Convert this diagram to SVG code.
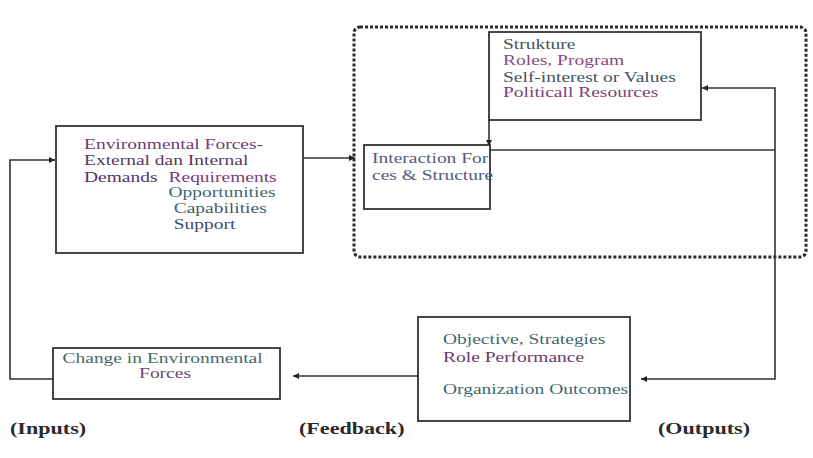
<svg xmlns="http://www.w3.org/2000/svg" width="813" height="458" viewBox="0 0 813 458">
  <style>
    .box { fill: #ffffff; stroke: #333333; stroke-width: 1.8; }
    .line { fill: none; stroke: #333333; stroke-width: 1.6; }
    .frame { fill: none; stroke: #2a2a2a; stroke-width: 3; stroke-dasharray: 3 2; }
    .t { font-family: "Liberation Serif", "Times New Roman", serif; font-size: 15px; }
    .lbl { font-family: "Liberation Serif", "Times New Roman", serif; font-size: 17px; font-weight: bold; fill: #2a2a2a; }
    .dk { fill: #3e5560; }
    .pu { fill: #7a3f7a; }
    .te { fill: #3e6a70; }
  </style>
  <defs>
    <marker id="arrow" viewBox="0 0 10 10" refX="10" refY="5" markerWidth="6" markerHeight="6" markerUnits="userSpaceOnUse" orient="auto">
      <path d="M0,0 L10,5 L0,10 z" fill="#222222"/>
    </marker>
  </defs>

  <!-- dotted frame around the interaction subsystem -->
  <rect class="frame" x="354" y="27" width="452" height="230" rx="6"/>

  <g id="connectors">
    <!-- environment to interaction -->
    <line class="line" x1="303" y1="158" x2="355" y2="158" marker-end="url(#arrow)"/>
    <!-- outer right loop -->
    <polyline class="line" points="775,150 775,88 702,88" marker-end="url(#arrow)"/>
    <line class="line" x1="490" y1="150" x2="775" y2="150"/>
    <polyline class="line" points="775,150 775,379 641,379" marker-end="url(#arrow)"/>
    <!-- structure to interaction -->
    <line class="line" x1="489" y1="120" x2="489" y2="146" marker-end="url(#arrow)"/>
    <!-- outputs to feedback -->
    <line class="line" x1="418" y1="376" x2="293" y2="376" marker-end="url(#arrow)"/>
    <!-- feedback back to inputs -->
    <polyline class="line" points="53,379 10,379 10,160 55,160" marker-end="url(#arrow)"/>
  </g>

  <g id="environmental-forces">
    <rect class="box" x="56" y="126" width="247" height="127"/>
    <text class="t" transform="translate(84 149) scale(1.3 1)">
      <tspan x="0" y="0" fill="#6e3f73">Environmental Forces-</tspan>
      <tspan x="0" y="16.5" fill="#5a3a5e">External dan Internal</tspan>
      <tspan x="0" y="33" fill="#5a2f6a">Demands</tspan>
      <tspan x="65" y="33" fill="#7a3a7a">Requirements</tspan>
      <tspan x="65" y="48.5" fill="#3e6a70">Opportunities</tspan>
      <tspan x="69" y="64.5" fill="#3e5f6a">Capabilities</tspan>
      <tspan x="69" y="80.5" fill="#3a4a6a">Support</tspan>
    </text>
  </g>

  <g id="structure">
    <rect class="box" x="489" y="32" width="212" height="88"/>
    <text class="t" transform="translate(503 49) scale(1.3 1)">
      <tspan x="0" y="0" class="dk">Strukture</tspan>
      <tspan x="0" y="16.5" fill="#8a4a80">Roles, Program</tspan>
      <tspan x="0" y="33" class="dk">Self-interest or Values</tspan>
      <tspan x="0" y="48.5" class="pu">Politicall Resources</tspan>
    </text>
  </g>

  <g id="interaction">
    <rect class="box" x="364" y="145" width="126" height="64"/>
    <text class="t" transform="translate(372 163) scale(1.3 1)" fill="#555a78">
      <tspan x="0" y="0">Interaction For</tspan>
      <tspan x="0" y="17">ces &amp; Structure</tspan>
    </text>
  </g>

  <g id="outcomes">
    <rect class="box" x="418" y="317" width="212" height="104"/>
    <text class="t" transform="translate(443 344) scale(1.3 1)">
      <tspan x="0" y="0" class="te">Objective, Strategies</tspan>
      <tspan x="0" y="18" fill="#6a3a6a">Role Performance</tspan>
      <tspan x="0" y="50" class="te">Organization Outcomes</tspan>
    </text>
  </g>

  <g id="environmental-change">
    <rect class="box" x="53" y="348" width="227" height="51"/>
    <text class="t" text-anchor="middle" transform="translate(165 363) scale(1.3 1)">
      <tspan x="0" y="0" fill="#4a6a6a">Change in Environmental</tspan>
      <tspan x="0" y="15" fill="#6a4a70">Forces</tspan>
    </text>
  </g>

  <g id="stage-labels">
    <text class="lbl" transform="translate(10 434) scale(1.3 1)">(Inputs)</text>
    <text class="lbl" transform="translate(299 434) scale(1.3 1)">(Feedback)</text>
    <text class="lbl" transform="translate(658 434) scale(1.3 1)">(Outputs)</text>
  </g>
</svg>
